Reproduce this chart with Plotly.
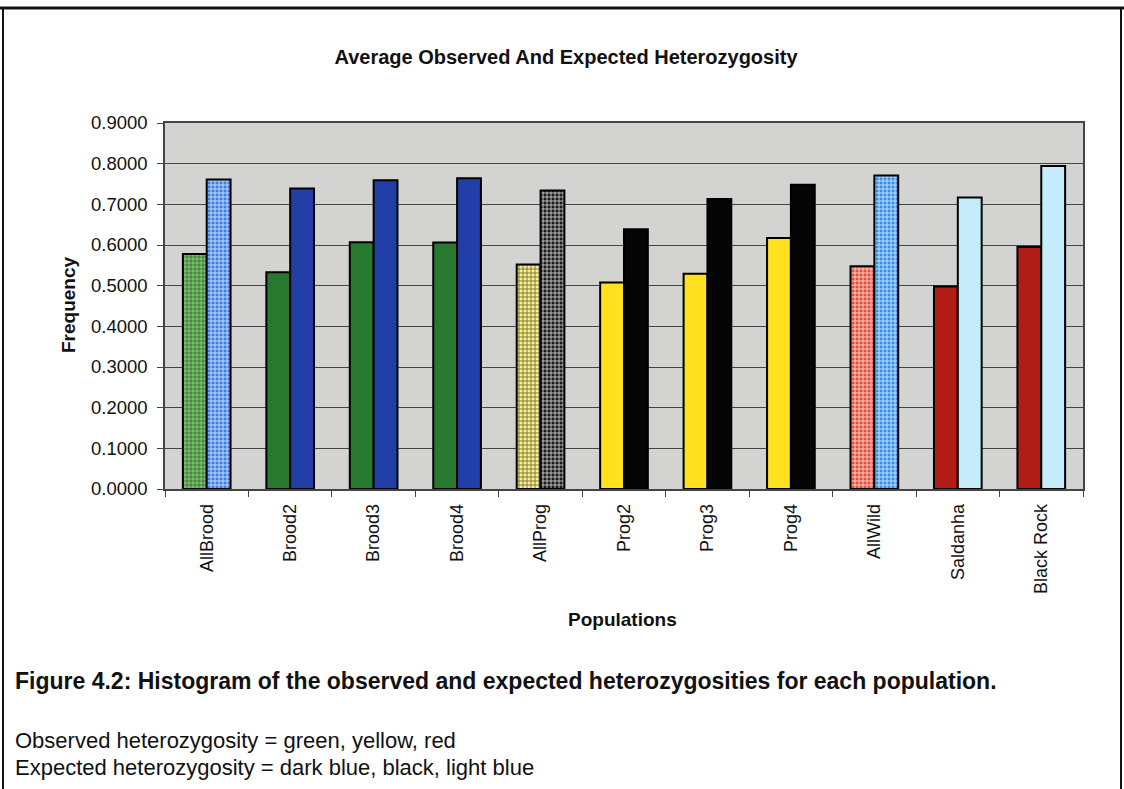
import plotly.graph_objects as go

# Populations and their average heterozygosity values
populations = ["AllBrood", "Brood2", "Brood3", "Brood4", "AllProg", "Prog2",
               "Prog3", "Prog4", "AllWild", "Saldanha", "Black Rock"]
observed = [0.578, 0.533, 0.607, 0.606, 0.552, 0.508, 0.529, 0.617, 0.548, 0.498, 0.595]
expected = [0.761, 0.739, 0.759, 0.764, 0.734, 0.639, 0.713, 0.748, 0.771, 0.717, 0.794]

# Per-bar styling: pooled groups ("All...") are drawn with a fine grid pattern
obs_base = ["#6cc95e", "#27792f", "#27792f", "#27792f", "#fff27a", "#ffe120",
            "#ffe120", "#ffe120", "#e8503d", "#b01d17", "#b01d17"]
obs_grid = ["#b9ecaa", "#27792f", "#27792f", "#27792f", "#fff8b4", "#ffe120",
            "#ffe120", "#ffe120", "#fbc2b2", "#b01d17", "#b01d17"]
exp_base = ["#3f7fe6", "#213fa6", "#213fa6", "#213fa6", "#1c1c1c", "#050505",
            "#050505", "#050505", "#3590ea", "#c5ecfb", "#c5ecfb"]
exp_grid = ["#b8d4f8", "#213fa6", "#213fa6", "#213fa6", "#a0a0a0", "#050505",
            "#050505", "#050505", "#b4dafc", "#c5ecfb", "#c5ecfb"]
pooled = ["+", "", "", "", "+", "", "", "", "+", "", ""]

W, H = 1124, 789
L, R, T, B = 165, 41, 123, 300
PW, PH = W - L - R, H - T - B


def px(x):
    return (x - L) / PW


def py(y):
    return (H - B - y) / PH


fig = go.Figure()
fig.add_trace(go.Bar(
    x=populations, y=observed, name="Observed",
    marker=dict(color=obs_base, line=dict(color="#000000", width=2),
                pattern=dict(shape=pooled, fgcolor=obs_grid, fgopacity=1,
                             size=4, solidity=0.3, fillmode="overlay")),
))
fig.add_trace(go.Bar(
    x=populations, y=expected, name="Expected",
    marker=dict(color=exp_base, line=dict(color="#000000", width=2),
                pattern=dict(shape=pooled, fgcolor=exp_grid, fgopacity=1,
                             size=4, solidity=0.3, fillmode="overlay")),
))

font = "Liberation Sans, Arial, sans-serif"

fig.update_layout(
    width=W, height=H,
    margin=dict(l=L, r=R, t=T, b=B, autoexpand=False),
    paper_bgcolor="#ffffff",
    plot_bgcolor="#d3d3d1",
    barmode="group", bargap=0.4286, bargroupgap=0,
    showlegend=False,
    font=dict(family=font, color="#111111"),
    title=dict(text="<b>Average Observed And Expected Heterozygosity</b>",
               x=566 / W, y=1 - 57 / H, xanchor="center", yanchor="middle",
               font=dict(size=20, family=font, color="#111111")),
)

fig.update_xaxes(
    showline=True, linecolor="#444444", linewidth=1.5, mirror=True,
    ticks="outside", ticklen=6, tickcolor="#444444", tickson="boundaries",
    tickangle=-90, tickfont=dict(size=18, family=font, color="#111111"),
    ticklabelstandoff=6,
)
fig.update_yaxes(
    range=[0, 0.9], dtick=0.1, tickformat=".4f",
    showgrid=True, gridcolor="#444444", gridwidth=1.3,
    showline=True, linecolor="#444444", linewidth=1.5, mirror=True,
    ticks="outside", ticklen=6, tickcolor="#444444",
    tickfont=dict(size=18.5, family=font, color="#111111"),
    ticklabelstandoff=6,
    zeroline=False,
)

# Axis titles
fig.add_annotation(text="<b>Populations</b>", x=px(622), y=py(619),
                   xanchor="center", yanchor="middle",
                   xref="paper", yref="paper", showarrow=False,
                   font=dict(size=19, family=font, color="#111111"))
fig.add_annotation(text="<b>Frequency</b>", x=px(68), y=py(305), textangle=-90,
                   xanchor="center", yanchor="middle",
                   xref="paper", yref="paper", showarrow=False,
                   font=dict(size=19, family=font, color="#111111"))

# Caption below the chart
fig.add_annotation(text="<b>Figure 4.2: Histogram of the observed and expected heterozygosities for each population.</b>",
                   x=px(13), y=py(681), xanchor="left", yanchor="middle",
                   xref="paper", yref="paper", showarrow=False,
                   font=dict(size=23, family=font, color="#111111"))
fig.add_annotation(text="Observed heterozygosity = green, yellow, red",
                   x=px(13), y=py(740), xanchor="left", yanchor="middle",
                   xref="paper", yref="paper", showarrow=False,
                   font=dict(size=22, family=font, color="#111111"))
fig.add_annotation(text="Expected heterozygosity = dark blue, black, light blue",
                   x=px(13), y=py(767), xanchor="left", yanchor="middle",
                   xref="paper", yref="paper", showarrow=False,
                   font=dict(size=22, family=font, color="#111111"))

# Outer frame around chart and caption
fig.add_shape(type="line", xref="paper", yref="paper",
              x0=px(0), x1=px(W), y0=py(8), y1=py(8),
              line=dict(color="#111111", width=3))
fig.add_shape(type="line", xref="paper", yref="paper",
              x0=px(3), x1=px(3), y0=py(8), y1=py(H + 5),
              line=dict(color="#111111", width=2))
fig.add_shape(type="line", xref="paper", yref="paper",
              x0=px(1121), x1=px(1121), y0=py(8), y1=py(H + 5),
              line=dict(color="#111111", width=2))

fig.write_html("out.html")
